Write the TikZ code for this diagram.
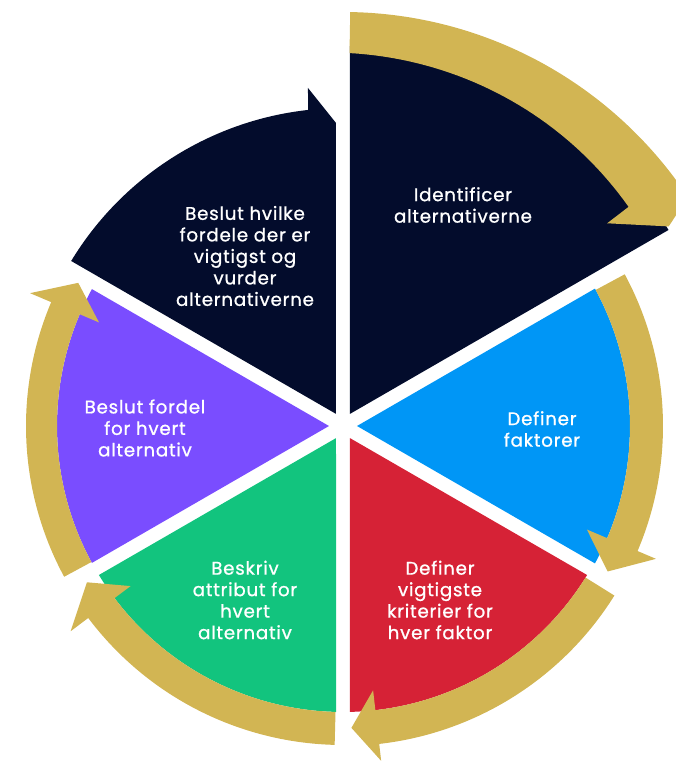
\documentclass[tikz,border=0pt]{standalone}
\usepackage{fontspec}
\setmainfont{Poppins}[LetterSpace=4, FakeBold=0.9]
\definecolor{navy}{HTML}{030C2C}
\definecolor{skyb}{HTML}{0096F6}
\definecolor{redc}{HTML}{D62236}
\definecolor{greenc}{HTML}{12C47E}
\definecolor{purplec}{HTML}{7A4DFF}
\definecolor{gold}{HTML}{D2B553}
\tikzset{
  lbl/.style={text=white, align=center, font=\fontsize{18.3}{21.5}\selectfont, inner sep=0pt},
  goldfill/.style={fill=gold, draw=none}
}
% start, base, tip, rin, rout, barbin, barbout, tipr
\newcommand\goldarrow[8]{%
  \path[goldfill] (#1:#4pt) -- (#1:#5pt) arc[start angle=#1, end angle=#2, radius=#5pt]
    -- (#2:#7pt) -- (#3:#8pt) -- (#2:#6pt) -- (#2:#4pt)
    arc[start angle=#2, end angle=#1, radius=#4pt] -- cycle;}
\begin{document}
\begin{tikzpicture}[x=1pt,y=1pt]
\useasboundingbox (-343,-335) rectangle (333,426);
\clip (-343,-335) rectangle (333,426);
% wedges
\fill[navy] (60:14pt) -- (88.944:380pt) arc[start angle=88.944, end angle=31.056, radius=380pt] -- cycle;
\fill[skyb] (0:14pt) -- (28.6:287pt) arc[start angle=28.6, end angle=-28.6, radius=287pt] -- cycle;
\fill[redc] (-60:14pt) -- (-31.4:286pt) arc[start angle=-31.4, end angle=-88.6, radius=286pt] -- cycle;
\fill[greenc] (-120:14pt) -- (-91.4:286pt) arc[start angle=-91.4, end angle=-148.6, radius=286pt] -- cycle;
\fill[purplec] (180:14pt) -- (208.6:286pt) arc[start angle=208.6, end angle=151.4, radius=286pt] -- cycle;
\fill[navy] (120:14pt) -- (148.74:318pt) arc[start angle=148.74, end angle=96.32, radius=318pt] -- (-35,338) -- (-7,303) -- cycle;
% gold arrows
\path[goldfill] (89:373pt) -- (89:414pt) arc[start angle=89, end angle=35, radius=414pt]
  -- (35:440pt) -- (31.5:382pt) -- (37.5:333pt) -- (37.5:360pt)
  -- plot[domain=37.5:89, samples=40] ({\x}:{360+(\x-37.5)*0.2524}) -- cycle;
\goldarrow{28.3}{-23}{-28.8}{287}{320}{265}{340}{302}
\goldarrow{-32}{-83.5}{-88.4}{286}{320}{266}{337}{302}
\goldarrow{-91.5}{-143}{-148.6}{286}{319}{266}{341}{300}
\goldarrow{208.4}{157}{151.6}{286}{317}{265}{340}{301}
% labels
\node[lbl] (t1) at (120,221) {Identificer\\alternativerne};
\node[lbl] (t2) at (199,-3) {Definer\\faktorer};
\node[lbl] (t3) at (97,-174) {Definer\\vigtigste\\kriterier for\\hver faktor};
\node[lbl] (t4) at (-98,-174) {Beskriv\\attribut for\\hvert\\alternativ};
\node[lbl] (t5) at (-198,-2) {Beslut fordel\\for hvert\\alternativ};
\node[lbl] (t6) at (-98,170) {Beslut hvilke\\fordele der er\\vigtigst og\\vurder\\alternativerne};
\end{tikzpicture}
\end{document}
